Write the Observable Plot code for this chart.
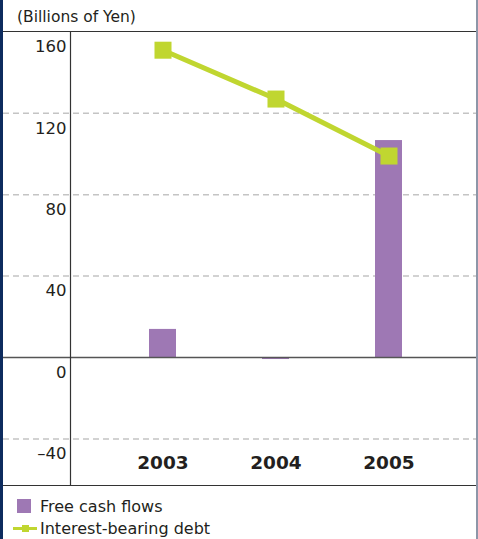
<!DOCTYPE html>
<html>
<head>
<meta charset="utf-8">
<script src="https://cdn.jsdelivr.net/npm/d3@7"></script>
<script src="https://cdn.jsdelivr.net/npm/@observablehq/plot@0.6"></script>
<style>
  html, body { margin: 0; padding: 0; background: #fff; }
  #wrap {
    box-sizing: border-box; width: 478px; height: 539px;
    border-left: 3px solid #0d2b5e; border-right: 2px solid #8d96a8;
    font-family: "DejaVu Sans", sans-serif; color: #231f20; overflow: hidden;
  }
  #title { height: 31px; box-sizing: border-box; padding-left: 14px; padding-top: 8px; font-size: 15.5px; line-height: 18px; }
  #chart svg { display: block; border-top: 1px solid #333; border-bottom: 1px solid #333; }
  #legend { padding-top: 10px; font-size: 16px; }
  .row { height: 21.5px; line-height: 21px; position: relative; padding-left: 37px; }
  .sq { position: absolute; left: 14px; top: 3px; width: 14px; height: 14px; background: #9e78b4; }
  .ln { position: absolute; left: 10px; top: 9px; width: 24px; height: 3px; background: #c0d630; }
  .ln::after { content: ""; position: absolute; left: 9px; top: -2px; width: 7px; height: 7px; background: #c0d630; }
</style>
</head>
<body>
<div id="wrap">
  <div id="title">(Billions of Yen)</div>
  <div id="chart"></div>
  <div id="legend">
    <div class="row"><span class="sq"></span>Free cash flows</div>
    <div class="row"><span class="ln"></span>Interest-bearing debt</div>
  </div>
</div>
<script>
const years = ["2003", "2004", "2005"];
const freeCashFlows = [13.8, -1, 106.6];
const interestBearingDebt = [151, 127, 99];
const yTickValues = [-40, 0, 40, 80, 120, 160];
const yTickLabels = ["–40", "0", "40", "80", "120", "160"];
const gridValues = [-40, 40, 80, 120];

const fcf = years.map((year, i) => ({year, value: freeCashFlows[i]}));
const debt = years.map((year, i) => ({year, value: interestBearingDebt[i]}));
const yTicks = yTickValues.map((value, i) => ({value, label: yTickLabels[i]}));

const green = "#c0d630";
const purple = "#9e78b4";

const plot = Plot.plot({
  width: 473,
  height: 453,
  marginLeft: 0, marginRight: 0, marginTop: 0, marginBottom: 0,
  style: {fontFamily: "DejaVu Sans, sans-serif", color: "#231f20", background: "#fff", overflow: "visible"},
  x: {type: "band", domain: years, range: [67, 473], paddingInner: 0.762, paddingOuter: 0.67, align: 0.513, axis: null},
  y: {domain: [-62.9, 159.7], axis: null},
  marks: [
    Plot.ruleY(gridValues, {stroke: "#c4c4c4", strokeWidth: 1.5, strokeDasharray: "6,4"}),
    Plot.barY(fcf, {x: "year", y: "value", fill: purple}),
    Plot.ruleY([0], {stroke: "#555", strokeWidth: 1.5}),
    Plot.lineY(debt, {x: "year", y: "value", stroke: green, strokeWidth: 5}),
    Plot.dot(debt, {x: "year", y: "value", symbol: "square", r: 9.6, fill: green, stroke: "none"}),
    Plot.text(yTicks, {y: "value", text: "label", frameAnchor: "left", dx: 63, dy: 15, textAnchor: "end", fontSize: 16.5, fill: "#231f20"}),
    Plot.text(years, {x: d => d, text: d => d, frameAnchor: "bottom", dy: -17, fontSize: 18.5, fontWeight: "bold", fill: "#231f20"})
  ]
});

const xr = plot.scale("x").range;
d3.select(plot).append("line")
  .attr("x1", xr[0] + 0.5).attr("x2", xr[0] + 0.5)
  .attr("y1", 0).attr("y2", 453)
  .attr("stroke", "#333").attr("stroke-width", 1.2);

document.getElementById("chart").appendChild(plot);
</script>
</body>
</html>
